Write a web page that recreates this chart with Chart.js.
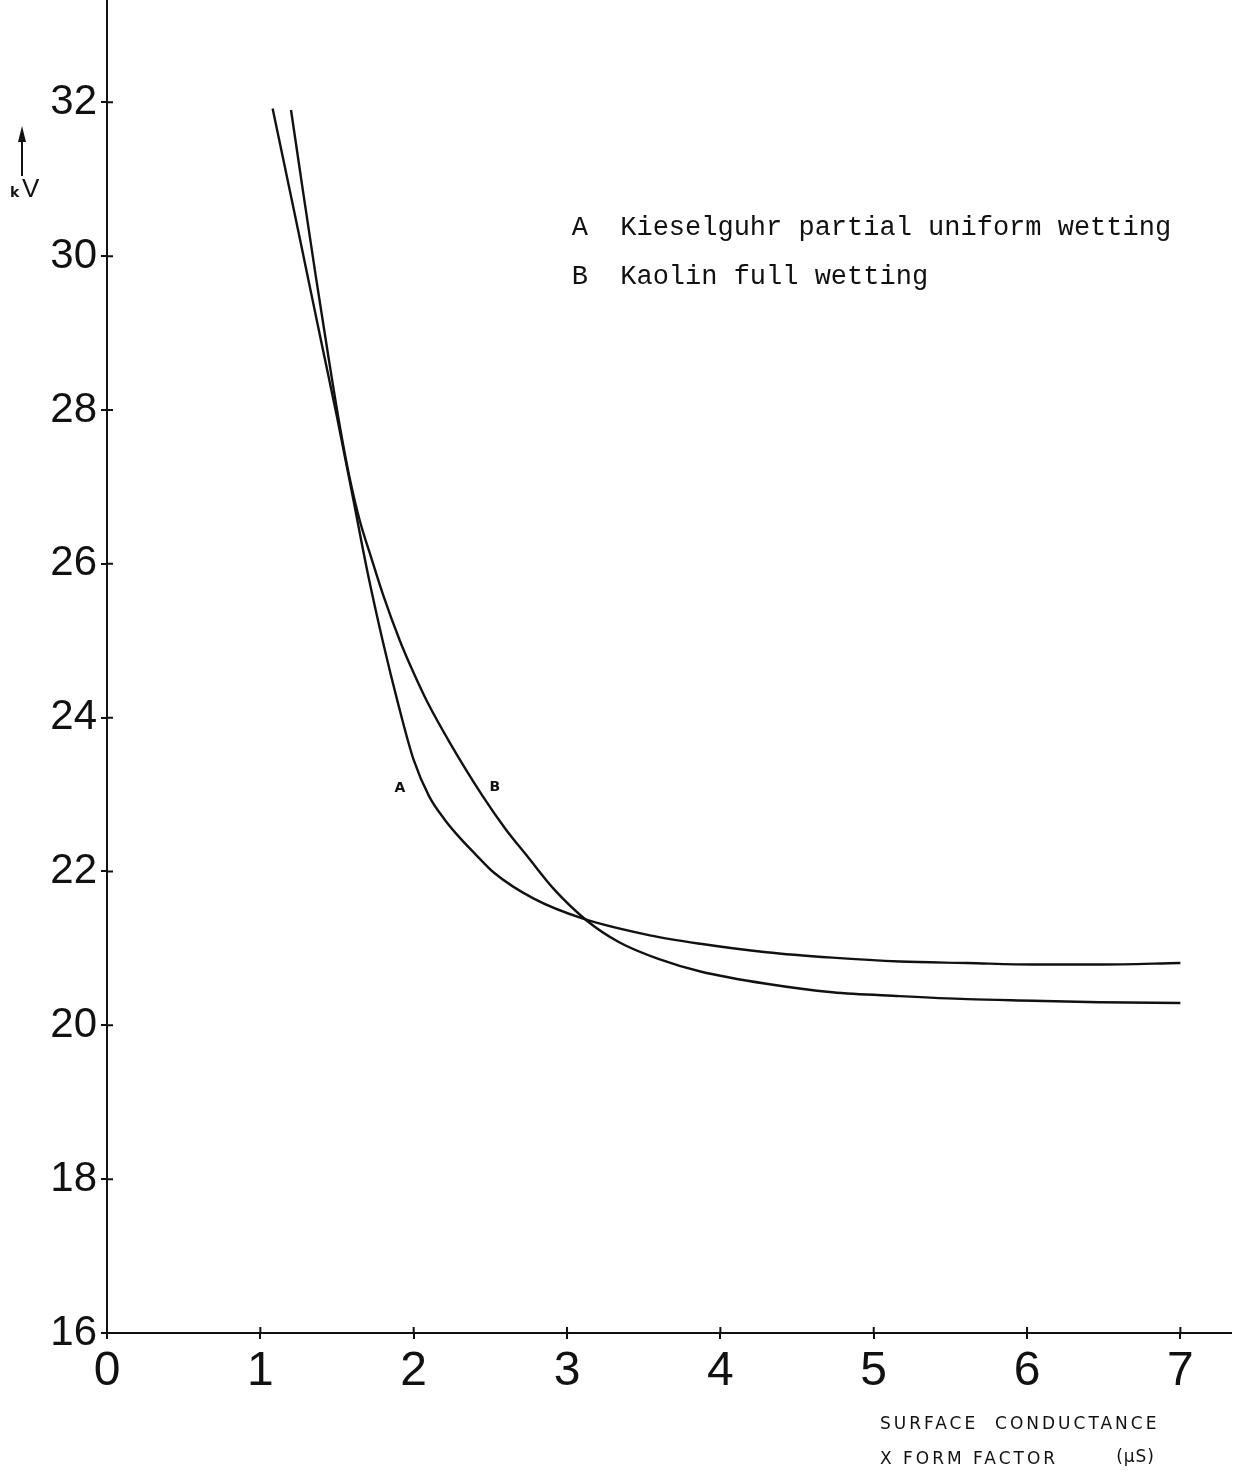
<!DOCTYPE html>
<html>
<head>
<meta charset="utf-8">
<script src="https://cdn.jsdelivr.net/npm/chart.js@4.4.1/dist/chart.umd.min.js"></script>
<style>
  html, body { margin: 0; padding: 0; background: #fff; }
  #wrap { width: 1233px; height: 1474px; position: relative; }
</style>
</head>
<body>
<div id="wrap"><canvas id="myChart" width="1233" height="1474"></canvas></div>
<script>
// values (x in uS, y in kV)
const curveAx = [1.08, 1.20, 1.30, 1.40, 1.50, 1.60, 1.70, 1.80, 1.90, 2.00, 2.10, 2.20, 2.30, 2.40, 2.52, 2.78, 3.10, 3.54, 3.87, 4.30, 4.73, 5.17, 5.61, 6.04, 6.47, 7.00];
const curveAy = [31.92, 30.78, 29.82, 28.86, 27.91, 26.90, 25.88, 24.98, 24.17, 23.45, 22.98, 22.68, 22.44, 22.23, 21.99, 21.65, 21.39, 21.17, 21.06, 20.95, 20.88, 20.83, 20.81, 20.79, 20.79, 20.81];
const curveBx = [1.20, 1.28, 1.36, 1.44, 1.52, 1.58, 1.65, 1.72, 1.80, 1.91, 2.00, 2.09, 2.24, 2.45, 2.60, 2.74, 2.91, 3.13, 3.34, 3.60, 3.87, 4.30, 4.73, 5.17, 5.61, 6.04, 6.47, 7.00];
const curveBy = [31.90, 30.82, 29.76, 28.74, 27.77, 27.14, 26.55, 26.10, 25.60, 25.00, 24.58, 24.20, 23.66, 22.98, 22.55, 22.20, 21.78, 21.36, 21.08, 20.86, 20.70, 20.54, 20.43, 20.38, 20.34, 20.32, 20.30, 20.29];
const xTicks = [0, 1, 2, 3, 4, 5, 6, 7];
const yTicks = [16, 18, 20, 22, 24, 26, 28, 30, 32];
const legendLines = ['A  Kieselguhr partial uniform wetting', 'B  Kaolin full wetting'];
const xTitle = ['SURFACE  CONDUCTANCE', 'X FORM FACTOR', '(\u03BCS)'];

function toPoints(xs, ys) {
  return xs.map((x, i) => ({ x: x, y: ys[i] }));
}

// ticks in the original cross the axis line, draw the inner half too
const innerTicks = {
  id: 'innerTicks',
  afterDraw(chart) {
    const ctx = chart.ctx;
    const xs = chart.scales.x, ys = chart.scales.y;
    ctx.save();
    ctx.strokeStyle = '#111';
    ctx.lineWidth = 2;
    ctx.beginPath();
    xTicks.forEach(v => {
      const px = xs.getPixelForValue(v);
      ctx.moveTo(px, ys.bottom);
      ctx.lineTo(px, ys.bottom - 6);
    });
    yTicks.forEach(v => {
      const py = ys.getPixelForValue(v);
      ctx.moveTo(xs.left, py);
      ctx.lineTo(xs.left + 6, py);
    });
    ctx.stroke();
    ctx.restore();
  }
};

// legend, curve letters, axis titles
const textLayer = {
  id: 'textLayer',
  afterDraw(chart) {
    const ctx = chart.ctx;
    const xs = chart.scales.x, ys = chart.scales.y;
    ctx.save();
    ctx.fillStyle = '#111';
    ctx.textBaseline = 'middle';

    ctx.font = '27px "Liberation Mono", "DejaVu Sans Mono", monospace';
    ctx.textAlign = 'left';
    ctx.fillText(legendLines[0], xs.getPixelForValue(3.03), ys.getPixelForValue(30.37));
    ctx.fillText(legendLines[1], xs.getPixelForValue(3.03), ys.getPixelForValue(29.73));

    ctx.font = 'bold 14px "DejaVu Sans", sans-serif';
    ctx.textAlign = 'center';
    ctx.fillText('A', xs.getPixelForValue(1.91), ys.getPixelForValue(23.08));
    ctx.fillText('B', xs.getPixelForValue(2.53), ys.getPixelForValue(23.1));

    ctx.font = '17px "DejaVu Sans", sans-serif';
    ctx.textAlign = 'left';
    ctx.letterSpacing = '3px';
    ctx.fillText(xTitle[0], 880, 1425);
    ctx.fillText(xTitle[1], 880, 1460);
    ctx.letterSpacing = '1px';
    ctx.textAlign = 'right';
    ctx.fillText(xTitle[2], 1155, 1458);
    ctx.letterSpacing = '0px';
    ctx.textAlign = 'left';

    // kV unit with upward arrow
    ctx.strokeStyle = '#111';
    ctx.lineWidth = 2;
    ctx.beginPath();
    ctx.moveTo(22, 176);
    ctx.lineTo(22, 140);
    ctx.stroke();
    ctx.beginPath();
    ctx.moveTo(22, 126);
    ctx.lineTo(18, 142);
    ctx.lineTo(26, 142);
    ctx.closePath();
    ctx.fill();
    ctx.font = 'bold 14px "DejaVu Sans", sans-serif';
    ctx.fillText('k', 10, 193);
    ctx.font = '26px "Liberation Sans Narrow", "Liberation Sans", sans-serif';
    ctx.fillText('V', 22, 190);
    ctx.restore();
  }
};

const ctx = document.getElementById('myChart').getContext('2d');
const myChart = new Chart(ctx, {
  type: 'scatter',
  data: {
    datasets: [
      {
        label: 'A',
        data: toPoints(curveAx, curveAy),
        showLine: true,
        borderColor: '#111',
        borderWidth: 2.4,
        pointRadius: 0,
        cubicInterpolationMode: 'monotone',
      },
      {
        label: 'B',
        data: toPoints(curveBx, curveBy),
        showLine: true,
        borderColor: '#111',
        borderWidth: 2.4,
        pointRadius: 0,
        cubicInterpolationMode: 'monotone',
      },
    ],
  },
  options: {
    responsive: false,
    animation: false,
    layout: { padding: { top: 0, right: 2, bottom: 0, left: 0 } },
    plugins: {
      legend: { display: false },
      tooltip: { enabled: false },
    },
    scales: {
      x: {
        type: 'linear',
        min: 0,
        max: 7.33,
        afterBuildTicks: scale => { scale.ticks = xTicks.map(v => ({ value: v })); },
        afterFit: scale => { scale.height = 141; },
        ticks: {
          color: '#111',
          padding: 4,
          font: { family: '"Liberation Sans Narrow", "Liberation Sans", sans-serif', size: 48 },
        },
        grid: { drawOnChartArea: false, tickLength: 6, color: '#111', lineWidth: 2 },
        border: { color: '#111', width: 2 },
      },
      y: {
        type: 'linear',
        min: 16,
        max: 33.33,
        afterBuildTicks: scale => { scale.ticks = yTicks.map(v => ({ value: v })); },
        afterFit: scale => {
          scale.width = 107;
          // top tick is well below the axis end, no need to reserve label room
          scale.paddingTop = 0;
          scale.paddingBottom = 0;
        },
        ticks: {
          color: '#111',
          padding: 4,
          font: { family: '"Liberation Sans Narrow", "Liberation Sans", sans-serif', size: 42 },
        },
        grid: { drawOnChartArea: false, tickLength: 6, color: '#111', lineWidth: 2 },
        border: { color: '#111', width: 2 },
      },
    },
  },
  plugins: [innerTicks, textLayer],
});
</script>
</body>
</html>
